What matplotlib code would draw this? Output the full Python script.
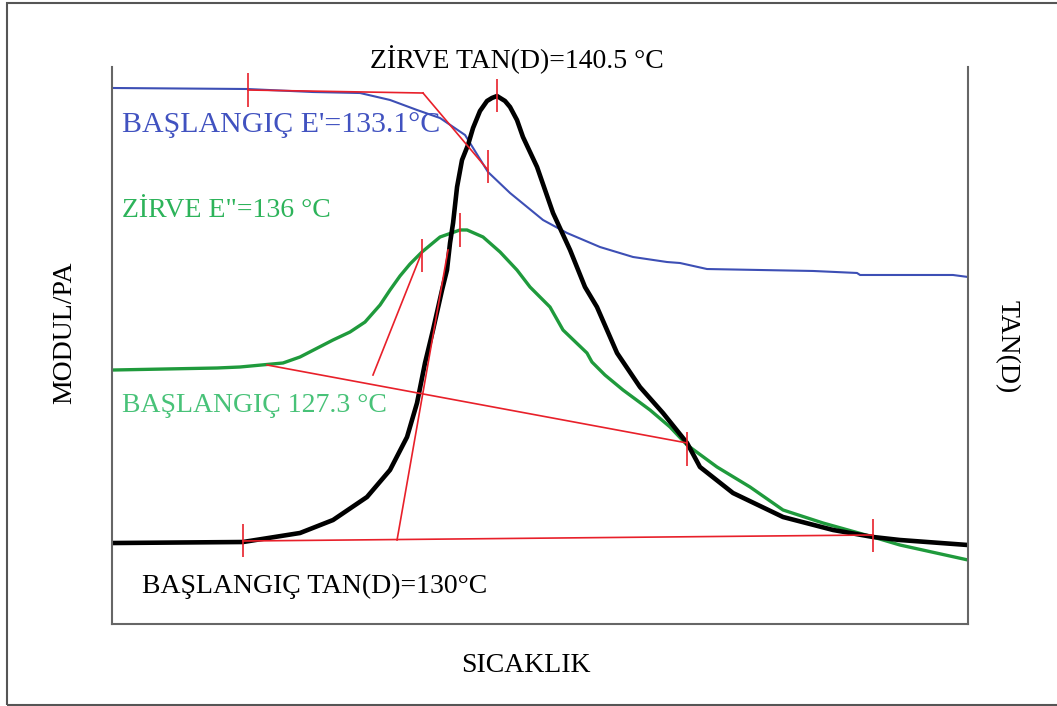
import matplotlib
matplotlib.use("Agg")
import matplotlib.pyplot as plt
from matplotlib.patches import Rectangle

# temperature (arbitrary scale, deg C) and relative signal (0-100)
tand_T = [100.1, 113.77, 119.77, 123.24, 126.81, 129.23, 131.02, 132.07,
          132.91, 133.75, 134.70, 135.22, 135.54, 135.86, 136.28, 136.80,
          137.43, 137.96, 138.69, 139.43, 139.95, 140.48, 141.32, 141.85,
          142.58, 143.21, 143.95, 144.69, 146.37, 148.16, 149.73, 150.99,
          153.10, 155.51, 157.93, 160.46, 161.82, 165.29, 170.55, 175.81,
          180.01, 182.85, 190.0]
tand_Y = [14.54, 14.72, 16.34, 18.67, 22.80, 27.65, 33.57, 39.68,
          46.86, 52.78, 59.96, 63.55, 68.40, 71.99, 78.46, 83.30,
          86.00, 89.05, 92.10, 93.90, 94.44, 94.79, 93.90, 92.82,
          90.48, 87.43, 84.74, 82.05, 73.79, 67.15, 60.50, 56.91,
          48.65, 42.55, 37.88, 32.50, 28.19, 23.52, 19.21, 16.88,
          15.62, 15.08, 14.18]

storage_T = [100.1, 114.19, 121.13, 126.08, 129.23, 132.07, 134.49, 137.12,
             139.53, 141.85, 145.32, 147.84, 151.31, 154.78, 158.35, 159.72,
             162.56, 173.71, 178.33, 178.65, 188.42, 190.0]
storage_Y = [96.23, 96.05, 95.51, 95.33, 94.08, 92.28, 90.84, 87.79,
             81.15, 77.38, 72.53, 70.20, 67.68, 65.89, 64.99, 64.81,
             63.73, 63.38, 63.02, 62.66, 62.66, 62.30]

loss_T = [100.1, 111.04, 113.46, 117.98, 119.77, 123.24, 125.02, 126.60,
          128.18, 129.23, 130.28, 131.33, 132.59, 134.49, 136.59, 137.33,
          139.01, 140.80, 142.58, 143.95, 146.05, 147.42, 149.94, 150.46,
          151.83, 153.73, 156.57, 158.67, 160.46, 163.61, 167.08, 170.55,
          174.76, 180.01, 182.85, 190.0]
loss_Y = [45.60, 45.96, 46.14, 46.86, 47.94, 50.99, 52.42, 54.21,
          57.27, 59.96, 62.48, 64.63, 66.79, 69.48, 70.74, 70.74,
          69.48, 66.79, 63.55, 60.50, 56.91, 52.78, 48.65, 47.04,
          44.70, 42.01, 38.42, 35.37, 32.14, 28.19, 24.60, 20.47,
          18.13, 15.62, 14.18, 11.49]

# construction lines: (T start, T end), (Y start, Y end)
construct_T = [(114.30, 132.70), (132.70, 139.53), (116.30, 160.46),
               (127.44, 132.59), (113.77, 180.01), (129.97, 135.33)]
construct_Y = [(95.87, 95.33), (95.33, 81.51), (46.50, 32.50),
               (44.70, 66.79), (14.90, 15.98), (15.08, 67.15)]

# marker ticks on the curves
tick_T = [114.30, 139.53, 140.48, 132.59, 136.59, 160.46, 113.77, 180.01]
tick_Y = [95.9, 82.1, 94.9, 66.2, 70.7, 31.4, 15.0, 15.9]

FONT = "Liberation Serif"
W, H = 1057, 706


def fx(px: float) -> float:
    """pixel x -> figure fraction"""
    return px / W


def fy(py: float) -> float:
    """pixel y (from top) -> figure fraction"""
    return (H - py) / H


def draw() -> None:
    """draw the DMA sketch and save it"""
    fig = plt.figure(figsize=(W / 100, H / 100), dpi=100)
    fig.patches.append(Rectangle((fx(7), fy(705)), 1.0, fy(3) - fy(705),
                                 transform=fig.transFigure, fill=False,
                                 ec="#555555", lw=1.5))

    ax = fig.add_axes([fx(112), fy(624), (968 - 112) / W, (624 - 67) / H])
    ax.set_xlim(100, 190)
    ax.set_ylim(0, 100)
    ax.set_xticks([])
    ax.set_yticks([])
    ax.spines["top"].set_visible(False)
    for side in ("left", "right", "bottom"):
        ax.spines[side].set_color("#666666")
        ax.spines[side].set_linewidth(1.5)

    ax.plot(storage_T, storage_Y, color="#3d4fb5", lw=1.5)
    ax.plot(loss_T, loss_Y, color="#1f9a3c", lw=2.4)
    ax.plot(tand_T, tand_Y, color="black", lw=3.3)
    for xs, ys in zip(construct_T, construct_Y):
        ax.plot(xs, ys, color="#e8202a", lw=1.2)
    ax.vlines(tick_T, [y - 3.0 for y in tick_Y], [y + 3.0 for y in tick_Y],
              color="#e8202a", lw=1.2)

    fs = 20
    fig.text(fx(517), fy(68), "ZİRVE TAN(D)=140.5 °C", ha="center",
             va="baseline", family=FONT, fontsize=fs, color="black")
    fig.text(fx(122), fy(132), "BAŞLANGIÇ E'=133.1°C", ha="left",
             va="baseline", family=FONT, fontsize=21.5, color="#4152c0")
    fig.text(fx(122), fy(217), 'ZİRVE E"=136 °C', ha="left",
             va="baseline", family=FONT, fontsize=fs, color="#2db35a")
    fig.text(fx(122), fy(412), "BAŞLANGIÇ 127.3 °C", ha="left",
             va="baseline", family=FONT, fontsize=fs, color="#48c278")
    fig.text(fx(142), fy(593), "BAŞLANGIÇ TAN(D)=130°C", ha="left",
             va="baseline", family=FONT, fontsize=fs, color="black")
    fig.text(fx(526), fy(672), "SICAKLIK", ha="center", va="baseline",
             family=FONT, fontsize=fs, color="black")
    fig.text(fx(65), fy(333), "MODUL/PA", ha="center", va="center",
             rotation=90, family=FONT, fontsize=fs, color="black")
    fig.text(fx(1007), fy(347), "TAN(D)", ha="center", va="center",
             rotation=270, family=FONT, fontsize=fs, color="black")

    fig.savefig("out.png", dpi=100)


def main() -> None:
    """main"""
    draw()


if __name__ == "__main__":
    main()
